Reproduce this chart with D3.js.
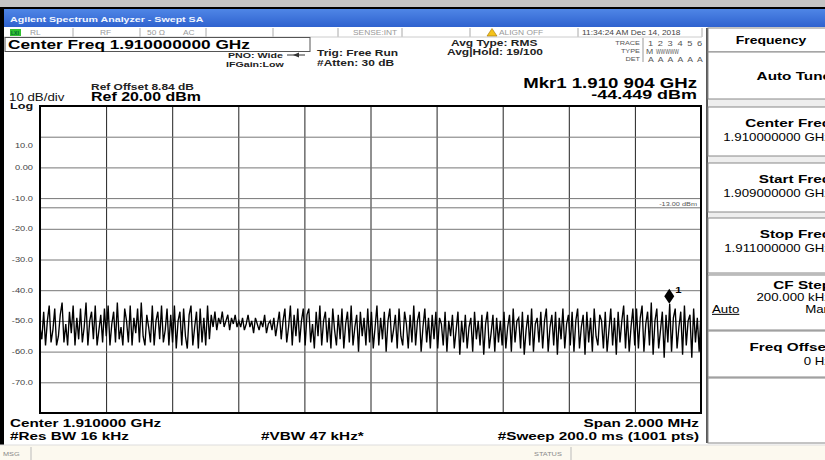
<!DOCTYPE html>
<html lang="en">
<head>
<meta charset="utf-8">
<title>Agilent Spectrum Analyzer - Swept SA</title>
<script src="https://d3js.org/d3.v7.min.js"></script>
<style>
  body { margin: 0; background: #fff; }
  svg { display: block; font-family: "Liberation Sans", Arial, sans-serif; }
</style>
</head>
<body>
<div id="chart"></div>
<script>
// ---- data ----
var freqStart = 1.909, freqStop = 1.911;           // GHz
var refLevel = 20, bottomLevel = -80;                // dBm
var yTicks = [10, 0, -10, -20, -30, -40, -50, -60, -70];
var yLabels = ["10.0", "0.00", "-10.0", "-20.0", "-30.0", "-40.0", "-50.0", "-60.0", "-70.0"];
var displayLine = -13;
var markerFreq = 1.910904, markerAmp = -44.449;

// trace, one division (36 readings) per row
var trace = [
  -52,-56,-47,-58,-50,-45,-57,-53,-46,-58,-55,-48,-44,-57,-51,-58,-47,-54,-45,-58,-49,-56,-46,-57,-52,-44,-58,-50,-47,-56,-45,-58,-53,-48,-57,-46,
  -55,-45,-58,-51,-47,-57,-44,-56,-52,-58,-46,-50,-57,-45,-58,-49,-54,-46,-57,-44,-55,-58,-48,-52,-57,-45,-58,-50,-47,-56,-45,-57,-53,-46,-58,-48,
  -57,-45,-59,-50,-47,-58,-46,-55,-59,-48,-45,-58,-52,-47,-59,-46,-57,-49,-58,-45,-56,-48,-52,-47,-53,-49,-51,-47,-52,-50,-48,-53,-49,-51,-48,-52,
  -50,-52,-49,-53,-51,-48,-52,-50,-54,-49,-51,-53,-50,-52,-48,-54,-51,-50,-53,-49,-55,-51,-47,-56,-50,-46,-57,-52,-45,-58,-48,-55,-46,-57,-50,-46,
  -58,-48,-46,-57,-51,-59,-47,-55,-45,-58,-50,-47,-57,-49,-59,-46,-53,-58,-48,-56,-46,-59,-51,-47,-57,-45,-58,-52,-48,-60,-47,-55,-49,-58,-46,-57,
  -47,-59,-52,-45,-58,-49,-56,-47,-60,-50,-46,-57,-53,-48,-59,-46,-55,-58,-47,-51,-59,-48,-57,-45,-58,-50,-47,-60,-52,-46,-57,-49,-59,-48,-56,-47,
  -59,-49,-51,-58,-47,-60,-50,-55,-48,-59,-53,-47,-61,-50,-57,-48,-59,-52,-49,-60,-47,-56,-50,-58,-48,-61,-51,-47,-59,-54,-48,-60,-49,-57,-50,-58,
  -47,-59,-52,-48,-60,-46,-57,-50,-49,-59,-47,-61,-53,-48,-58,-46,-60,-51,-49,-57,-47,-59,-50,-46,-60,-52,-48,-58,-47,-61,-49,-56,-46,-59,-51,-48,
  -58,-47,-60,-50,-46,-59,-52,-48,-61,-47,-57,-49,-60,-46,-55,-58,-48,-50,-59,-47,-60,-53,-46,-58,-49,-61,-47,-57,-50,-45,-59,-48,-60,-52,-46,-58,
  -46,-59,-49,-45,-60,-51,-47,-58,-44,-61,-50,-46,-59,-53,-47,-62,-48,-57,-44.4,-60,-49,-46,-59,-52,-47,-61,-45,-58,-50,-48,-62,-46,-57,-49,-60,-47
];

var statusCells = ["RL", "RF", "50 \u03a9", "AC", "SENSE:INT", "ALIGN OFF", "11:34:24 AM Dec 14, 2018"];
var softTitles = ["Auto Tune", "Center Freq", "Start Freq", "Stop Freq", "CF Step", "Freq Offset"];
var softValues = ["", "1.910000000 GHz", "1.909000000 GHz", "1.911000000 GHz", "200.000 kHz", "0 Hz"];

// ---- layout ----
var W = 825, H = 460;
var SX = 1.33;   // screen capture is stretched horizontally
var plotL = 40, plotR = 701, plotT = 106, plotB = 413;

var svg = d3.select("#chart").append("svg").attr("width", W).attr("height", H);

function txt(x, y, s, o) {
  o = o || {};
  return svg.append("text")
    .attr("transform", "translate(" + x + "," + y + ") scale(" + (o.sx || SX) + ",1)")
    .attr("font-size", o.size || 10)
    .attr("font-weight", o.bold ? "bold" : "normal")
    .attr("text-anchor", o.anchor || "start")
    .attr("fill", o.fill || "#000")
    .text(s);
}

// window chrome
svg.append("rect").attr("x", 0).attr("y", 0).attr("width", W).attr("height", 7).attr("fill", "#c4c4c4");
svg.append("rect").attr("x", 0).attr("y", 7).attr("width", W).attr("height", 2).attr("fill", "#000");
var grad = svg.append("defs").append("linearGradient").attr("id", "tb").attr("x1", 0).attr("x2", 0).attr("y1", 0).attr("y2", 1);
grad.append("stop").attr("offset", "0%").attr("stop-color", "#4f86e6");
grad.append("stop").attr("offset", "100%").attr("stop-color", "#2f62cf");
svg.append("rect").attr("x", 0).attr("y", 9).attr("width", W).attr("height", 18).attr("fill", "url(#tb)");
txt(10, 22, "Agilent Spectrum Analyzer - Swept SA", {size: 8, bold: true, fill: "#f2f6ff"});
svg.append("rect").attr("x", 0).attr("y", 9).attr("width", 4).attr("height", 436).attr("fill", "#000");

// status row
var statusX = [30, 100, 147, 183, 353, 499, 582];
var sepX = [73, 140, 206, 273, 338, 402, 470, 578, 702];
sepX.forEach(function(x) {
  svg.append("line").attr("x1", x).attr("x2", x).attr("y1", 28).attr("y2", 37).attr("stroke", "#aaa");
});
svg.append("line").attr("x1", 4).attr("x2", 702).attr("y1", 37).attr("y2", 37).attr("stroke", "#ccc");
svg.append("rect").attr("x", 10).attr("y", 29).attr("width", 11).attr("height", 7).attr("fill", "#30c030");
txt(11, 35, "LXI", {size: 5, bold: true, sx: 1, fill: "#063"});
statusCells.forEach(function(s, i) {
  txt(statusX[i], 35, s, {size: 6.3, fill: i == 6 ? "#444" : "#999"});
});
svg.append("path").attr("d", "M487,36 L492,28.5 L497,36 Z").attr("fill", "#f4c21a").attr("stroke", "#a07000").attr("stroke-width", 0.6);

// header
svg.append("rect").attr("x", 5).attr("y", 37.5).attr("width", 305).attr("height", 14).attr("fill", "none").attr("stroke", "#555");
txt(8, 49, "Center Freq 1.910000000 GHz", {size: 13, bold: true});
txt(228, 58, "PNO: Wide", {size: 8, bold: true, fill: "#222"});
svg.append("line").attr("x1", 287).attr("x2", 305).attr("y1", 55).attr("y2", 55).attr("stroke", "#333");
svg.append("path").attr("d", "M293,55 L299,52.5 L299,57.5 Z").attr("fill", "#333");
txt(226, 66.5, "IFGain:Low", {size: 8, bold: true, fill: "#222"});
txt(317, 56, "Trig: Free Run", {size: 9, bold: true, fill: "#222"});
txt(317, 66, "#Atten: 30 dB", {size: 9, bold: true, fill: "#222"});
txt(451, 46, "Avg Type: RMS", {size: 9, bold: true, fill: "#222"});
txt(447, 55, "Avg|Hold: 19/100", {size: 9, bold: true, fill: "#222"});

// trace legend block
txt(640, 45, "TRACE", {size: 5.5, anchor: "end", fill: "#555"});
txt(640, 53, "TYPE", {size: 5.5, anchor: "end", fill: "#555"});
txt(640, 61, "DET", {size: 5.5, anchor: "end", fill: "#555"});
svg.append("line").attr("x1", 643).attr("x2", 643).attr("y1", 38).attr("y2", 62).attr("stroke", "#999");
d3.range(6).forEach(function(i) {
  txt(648 + i * 9.8, 46, String(i + 1), {size: 7, fill: "#555"});
  txt(648 + i * 9.8, 62, "A", {size: 6.5, fill: "#555"});
});
txt(646, 54, "M", {size: 6.5, fill: "#555"});
txt(656, 54, "WWWWW", {size: 6.5, fill: "#555", sx: 0.75});

// marker readout
txt(697, 88, "Mkr1 1.910 904 GHz", {size: 14, bold: true, anchor: "end"});
txt(697, 99, "-44.449 dBm", {size: 13.5, bold: true, anchor: "end"});

// reference
txt(91, 90, "Ref Offset 8.84 dB", {size: 9, bold: true, fill: "#222"});
txt(91, 101, "Ref 20.00 dBm", {size: 12, bold: true});
txt(9, 101, "10 dB/div", {size: 10, fill: "#111"});
txt(10, 109, "Log", {size: 9.5, bold: true, fill: "#111"});

// ---- plot ----
var x = d3.scaleLinear().domain([freqStart, freqStop]).range([plotL, plotR]);
var y = d3.scaleLinear().domain([bottomLevel, refLevel]).range([plotB, plotT]);
var vTicks = d3.range(1, 10).map(function(k) { return freqStart + k * (freqStop - freqStart) / 10; });

var grid = svg.append("g");
grid.append("g").attr("transform", "translate(0," + plotB + ")")
  .call(d3.axisBottom(x).tickValues(vTicks).tickSize(-(plotB - plotT)).tickFormat(""))
  .call(function(g) { g.select(".domain").remove(); g.selectAll("line").attr("stroke", "#222"); });
grid.append("g").attr("transform", "translate(" + plotL + ",0)")
  .call(d3.axisLeft(y).tickValues(yTicks.concat([displayLine])).tickSize(-(plotR - plotL)).tickFormat(""))
  .call(function(g) { g.select(".domain").remove(); g.selectAll("line").attr("stroke", "#777"); });

yTicks.forEach(function(v, i) {
  txt(33, y(v) + 2.5 + (i == 0 ? 9 : 0), yLabels[i], {size: 7, fill: "#444", anchor: "end"});
});
txt(697, y(displayLine) - 1.5, "-13.00 dBm", {size: 5.5, fill: "#555", anchor: "end"});

var step = (freqStop - freqStart) / (trace.length - 1);
var line = d3.line()
  .x(function(d, i) { return x(freqStart + i * step); })
  .y(function(d) { return y(d); });
svg.append("path").datum(trace).attr("d", line)
  .attr("fill", "none").attr("stroke", "#000").attr("stroke-width", 1.35).attr("stroke-linejoin", "miter");

svg.append("rect").attr("x", plotL).attr("y", plotT).attr("width", plotR - plotL).attr("height", plotB - plotT)
  .attr("fill", "none").attr("stroke", "#000").attr("stroke-width", 2);

// marker
var mx = x(markerFreq), my = y(markerAmp);
svg.append("path").attr("d", "M" + mx + "," + my + " l-5,-7.5 l5,-7.5 l5,7.5 Z").attr("fill", "#000");
txt(mx + 6, my - 11, "1", {size: 8.5, bold: true});

// bottom annotations
txt(10, 427, "Center 1.910000 GHz", {size: 11.5, bold: true});
txt(10, 440, "#Res BW 16 kHz", {size: 11.5, bold: true});
txt(261, 440, "#VBW 47 kHz*", {size: 11.5, bold: true});
txt(699, 427, "Span 2.000 MHz", {size: 11.5, bold: true, anchor: "end"});
txt(699, 440, "#Sweep  200.0 ms (1001 pts)", {size: 11.5, bold: true, anchor: "end"});

// message bar
svg.append("rect").attr("x", 0).attr("y", 445).attr("width", W).attr("height", 15).attr("fill", "#fcf9ef");
svg.append("line").attr("x1", 0).attr("x2", W).attr("y1", 445).attr("y2", 445).attr("stroke", "#ddd");
txt(3, 456, "MSG", {size: 5.5, fill: "#888"});
txt(534, 456, "STATUS", {size: 5.5, fill: "#888"});
[31, 571].forEach(function(xx) {
  svg.append("line").attr("x1", xx).attr("x2", xx).attr("y1", 447).attr("y2", 460).attr("stroke", "#bbb");
});

// ---- softkey panel ----
svg.append("rect").attr("x", 707).attr("y", 28).attr("width", 118).attr("height", 415).attr("fill", "#eeeeee");
svg.append("line").attr("x1", 707).attr("x2", 707).attr("y1", 28).attr("y2", 443).attr("stroke", "#222").attr("stroke-width", 1.5);
var boxes = [[28, 52], [52, 99], [107, 156], [163, 212], [218, 273], [275, 330], [331, 377], [378, 443]];
boxes.forEach(function(b) {
  svg.append("rect").attr("x", 708).attr("y", b[0]).attr("width", 130).attr("height", b[1] - b[0])
    .attr("fill", "#fff").attr("stroke", "#888");
});
txt(771, 44, "Frequency", {size: 10.5, bold: true, anchor: "middle"});
softTitles.forEach(function(t, i) {
  var top = boxes[i + 1][0];
  if (i == 0) {
    txt(831, 80, t, {size: 11.5, bold: true, anchor: "end"});
  } else if (t == "CF Step") {
    txt(831, 289, t, {size: 11.5, bold: true, anchor: "end"});
    txt(831, 301, softValues[i], {size: 10, anchor: "end"});
    txt(712, 313, "Auto", {size: 10}).attr("text-decoration", "underline");
    txt(831, 313, "Man", {size: 10, anchor: "end"});
  } else {
    txt(831, top + 20, t, {size: 11.5, bold: true, anchor: "end"});
    txt(831, top + 34, softValues[i], {size: 10, anchor: "end"});
  }
});
</script>
</body>
</html>
